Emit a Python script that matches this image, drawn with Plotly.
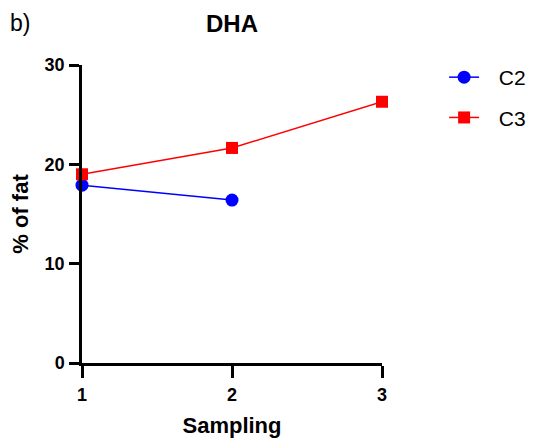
import plotly.graph_objects as go

sampling = [1, 2, 3]
c2_values = [17.9, 16.4]
c3_values = [19.0, 21.65, 26.3]
y_ticks = [0, 10, 20, 30]

fig = go.Figure()
fig.add_trace(go.Scatter(
    x=sampling[:len(c2_values)], y=c2_values, name="\u2002\u2009C2", mode="lines+markers",
    line=dict(color="#0000FF", width=1.5),
    marker=dict(symbol="circle", size=13, color="#0000FF"),
    cliponaxis=False, legendgroup="a"))
fig.add_trace(go.Scatter(
    x=sampling, y=c3_values, name="\u2002\u2009C3", mode="lines+markers",
    line=dict(color="#FF0000", width=1.5),
    marker=dict(symbol="square", size=12, color="#FF0000"),
    cliponaxis=False, legendgroup="b"))

font = "Liberation Sans, Arial, sans-serif"
W, H = 527, 436
L, T, PW, PH = 74, 57, 300, 298
fig.update_layout(
    width=W, height=H,
    margin=dict(l=L, r=W - L - PW, t=T, b=H - T - PH, autoexpand=False),
    plot_bgcolor="white", paper_bgcolor="white",
    font=dict(family=font, color="black"),
    showlegend=True,
    legend=dict(x=1.207, y=1 + 8 / PH, xanchor="left", yanchor="top",
                font=dict(size=21, family=font, color="black"),
                tracegroupgap=10, bgcolor="rgba(0,0,0,0)"),
    xaxis=dict(range=[1, 3], tickvals=sampling, ticktext=[str(s) for s in sampling],
               showgrid=False, zeroline=False, showline=True, linecolor="black",
               linewidth=2.5, ticks="outside", ticklen=12, tickwidth=2.5, tickcolor="black",
               ticklabelstandoff=2, automargin=False,
               tickfont=dict(size=18, family=font, color="black", weight="bold"),
               title=dict(text="<b>Sampling</b>", font=dict(size=22, family=font), standoff=14)),
    yaxis=dict(range=[0, 30], tickvals=y_ticks, showgrid=False, zeroline=False,
               showline=True, linecolor="black", linewidth=2.5, ticks="outside",
               ticklen=10, tickwidth=2.5, tickcolor="black", ticklabelstandoff=1,
               automargin=False,
               tickfont=dict(size=18, family=font, color="black", weight="bold"),
               title=dict(text="<b>% of fat</b>", font=dict(size=22, family=font), standoff=14)),
    title=dict(text="<b>DHA</b>", x=224 / W, xanchor="center", y=1 - 16 / H, yanchor="middle",
               font=dict(size=24, family=font, color="black")),
    annotations=[dict(text="b)", xref="paper", yref="paper", x=-L / PW, y=(T + PH - 15) / PH,
                      xanchor="left", yanchor="middle", showarrow=False,
                      font=dict(size=23, family=font, color="black"))],
)
fig.write_html("out.html")
